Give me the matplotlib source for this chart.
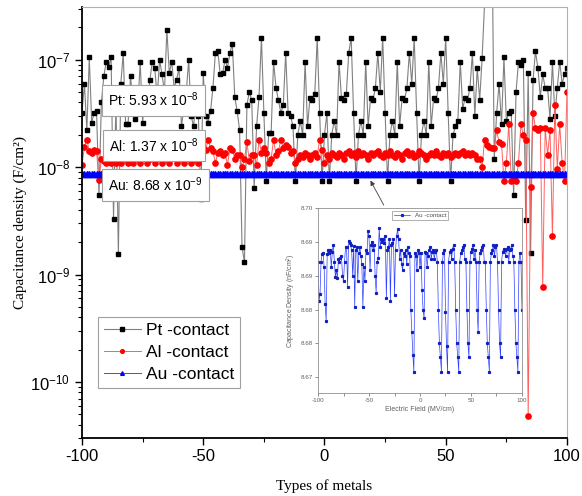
import numpy as np
import matplotlib
matplotlib.use('Agg')
import matplotlib.pyplot as plt
from matplotlib.ticker import NullFormatter, FixedLocator

plt.rcParams['font.family'] = ['Liberation Sans', 'DejaVu Sans']
plt.rcParams['axes.unicode_minus'] = False
plt.rcParams['mathtext.fontset'] = 'custom'
plt.rcParams['mathtext.rm'] = 'Liberation Sans'
plt.rcParams['mathtext.it'] = 'Liberation Sans:italic'
plt.rcParams['mathtext.bf'] = 'Liberation Sans:bold'

# ── data ───────────────────────────────────────────────────────────────────
field = list(range(-100, 101))

pt_contact = [
    3.2e-8, 6.0e-8, 2.2e-8, 1.05e-7, 2.6e-8, 3.2e-8, 3.3e-8, 5.5e-9, 4.0e-8, 7.0e-8,      # -100..-91
    9.6e-8, 8.5e-8, 1.05e-7, 3.3e-9, 4.0e-8, 1.55e-9, 6.0e-8, 1.15e-7, 2.5e-8, 2.5e-8,    # -90..-81
    7.0e-8, 4.0e-8, 2.8e-8, 3.5e-8, 9.6e-8, 2.6e-8, 5.0e-8, 4.0e-8, 6.5e-8, 9.6e-8,       # -80..-71
    8.4e-8, 4.5e-8, 1.0e-7, 7.3e-8, 5.0e-8, 1.9e-7, 7.5e-8, 9.6e-8, 5.5e-8, 6.5e-8,       # -70..-61
    8.4e-8, 2.4e-8, 3.5e-8, 5.0e-8, 1.0e-7, 3.0e-8, 2.4e-8, 4.0e-8, 3.0e-8, 5.0e-9,       # -60..-51
    7.5e-8, 3.0e-8, 2.6e-8, 3.3e-8, 5.5e-8, 1.15e-7, 1.2e-7, 7.3e-8, 7.5e-8, 1.0e-7,      # -50..-41
    8.4e-8, 1.16e-7, 1.4e-7, 4.5e-8, 3.3e-8, 2.2e-8, 1.8e-9, 1.3e-9, 3.8e-8, 5.0e-8,      # -40..-31
    4.2e-8, 6.4e-9, 2.4e-8, 4.5e-8, 1.6e-7, 3.2e-8, 7.4e-9, 2.1e-8, 2.1e-8, 9.6e-8,       # -30..-21
    5.5e-8, 4.2e-8, 3.2e-8, 3.8e-8, 1.16e-7, 3.2e-8, 3.0e-8, 2.4e-8, 7.4e-9, 2.0e-8,      # -20..-11
    2.7e-8, 2.0e-8, 9.6e-8, 2.4e-8, 4.4e-8, 4.2e-8, 4.8e-8, 1.6e-7, 3.2e-8, 7.4e-9,       # -10..-1
    2.0e-8, 3.2e-8, 7.4e-9, 2.0e-8, 2.7e-8, 2.0e-8, 9.6e-8, 4.4e-8, 4.2e-8, 4.8e-8,       # 0..9
    1.16e-7, 1.6e-7, 3.2e-8, 7.4e-9, 2.0e-8, 2.7e-8, 2.0e-8, 9.6e-8, 2.4e-8, 4.4e-8,      # 10..19
    4.2e-8, 5.5e-8, 1.16e-7, 5.0e-8, 1.6e-7, 3.2e-8, 7.4e-9, 2.0e-8, 2.7e-8, 2.0e-8,      # 20..29
    9.6e-8, 2.4e-8, 4.4e-8, 4.2e-8, 5.5e-8, 1.16e-7, 6.0e-8, 1.6e-7, 3.2e-8, 7.4e-9,      # 30..39
    2.0e-8, 2.7e-8, 2.0e-8, 9.6e-8, 2.4e-8, 4.4e-8, 4.2e-8, 5.5e-8, 1.16e-7, 6.0e-8,      # 40..49
    1.6e-7, 3.2e-8, 7.4e-9, 2.0e-8, 2.4e-8, 2.7e-8, 9.6e-8, 3.5e-8, 4.4e-8, 4.2e-8,       # 50..59
    5.5e-8, 1.16e-7, 3.0e-8, 8.4e-8, 4.2e-8, 1.04e-7, 3.3e-7, 1.0e-6, 1.5e-6, 2.5e-6,     # 60..69
    1.2e-8, 3.2e-8, 6.0e-8, 2.5e-8, 1.05e-7, 2.7e-8, 3.2e-8, 3.3e-8, 5.5e-9, 5.0e-8,      # 70..79
    9.6e-8, 9.0e-8, 1.0e-7, 3.2e-9, 7.5e-8, 1.6e-9, 6.5e-8, 1.2e-7, 8.4e-8, 4.5e-8,       # 80..89
    7.3e-8, 5.5e-8, 5.5e-8, 2.8e-8, 9.6e-8, 3.0e-8, 5.5e-8, 9.6e-8, 6.0e-8, 7.3e-8,       # 90..99
    8.4e-8,                                                                               # 100
]

al_contact = [
    1.05e-8, 1.55e-8, 1.8e-8, 1.4e-8, 1.35e-8, 1.45e-8, 1.4e-8, 7.6e-9, 1.2e-8, 1.15e-8,
    1.1e-8, 1.2e-8, 1.1e-8, 1.3e-8, 1.1e-8, 1.25e-8, 1.1e-8, 1.3e-8, 1.2e-8, 1.1e-8,
    1.25e-8, 1.1e-8, 1.3e-8, 1.2e-8, 1.1e-8, 1.35e-8, 1.25e-8, 1.1e-8, 1.2e-8, 1.3e-8,
    1.1e-8, 1.25e-8, 1.3e-8, 1.1e-8, 1.2e-8, 1.35e-8, 1.1e-8, 1.25e-8, 1.3e-8, 1.1e-8,
    1.2e-8, 1.3e-8, 1.1e-8, 1.25e-8, 1.35e-8, 1.1e-8, 1.2e-8, 1.3e-8, 1.1e-8, 1.4e-8,
    1.5e-8, 1.45e-8, 1.8e-8, 1.5e-8, 1.4e-8, 1.1e-8, 1.35e-8, 1.4e-8, 1.3e-8, 1.35e-8,
    1.05e-8, 1.5e-8, 1.45e-8, 1.2e-8, 1.3e-8, 1.3e-8, 1.0e-8, 1.2e-8, 1.7e-8, 1.15e-8,
    1.3e-8, 1.3e-8, 1.05e-8, 1.8e-8, 1.35e-8, 1.5e-8, 1.35e-8, 1.1e-8, 1.2e-8, 1.8e-8,
    1.3e-8, 1.4e-8, 1.8e-8, 1.5e-8, 1.6e-8, 1.55e-8, 1.35e-8, 1.4e-8, 1.1e-8, 1.2e-8,
    1.3e-8, 1.25e-8, 1.35e-8, 1.3e-8, 1.2e-8, 1.3e-8, 1.35e-8, 1.25e-8, 1.8e-8, 1.45e-8,
    1.1e-8, 1.3e-8, 1.2e-8, 1.35e-8, 1.3e-8, 1.25e-8, 1.35e-8, 1.3e-8, 1.2e-8, 1.35e-8,
    1.4e-8, 1.3e-8, 1.35e-8, 1.25e-8, 1.4e-8, 1.3e-8, 1.35e-8, 1.3e-8, 1.2e-8, 1.35e-8,
    1.3e-8, 1.35e-8, 1.4e-8, 1.3e-8, 1.25e-8, 1.35e-8, 1.3e-8, 1.4e-8, 1.3e-8, 1.25e-8,
    1.35e-8, 1.3e-8, 1.2e-8, 1.35e-8, 1.4e-8, 1.3e-8, 1.35e-8, 1.25e-8, 1.3e-8, 1.4e-8,
    1.35e-8, 1.3e-8, 1.2e-8, 1.3e-8, 1.35e-8, 1.3e-8, 1.4e-8, 1.3e-8, 1.25e-8, 1.35e-8,
    1.3e-8, 1.35e-8, 1.25e-8, 1.3e-8, 1.35e-8, 1.3e-8, 1.35e-8, 1.4e-8, 1.3e-8, 1.35e-8,
    1.3e-8, 1.35e-8, 1.3e-8, 1.2e-8, 1.2e-8, 1.0e-8, 1.8e-8, 1.6e-8, 1.55e-8, 1.5e-8,
    1.5e-8, 2.2e-8, 1.7e-8, 1.65e-8, 7.5e-9, 1.1e-8, 2.5e-8, 7.5e-9, 7.8e-9, 7.5e-9,
    1.1e-8, 2.5e-8, 2.0e-8, 1.8e-8, 4.8e-11, 6.6e-9, 3.2e-8, 2.3e-8, 2.2e-8, 2.3e-8,
    7.6e-10, 2.3e-8, 1.3e-8, 2.2e-8, 2.3e-9, 3.8e-8, 9.7e-9, 2.5e-8, 1.1e-8, 7.5e-9,
    5.0e-8,
]

# Au-contact in nF/cm^2 (inset); main panel uses the same values in F/cm^2
au_contact_nf = [
    8.6905, 8.6835, 8.6848, 8.6905, 8.6918, 8.6920, 8.6895, 8.6830, 8.6800, 8.6918,
    8.6925, 8.6920, 8.6925, 8.6895, 8.6922, 8.6935, 8.6905, 8.6878, 8.6890, 8.6875,
    8.6910, 8.6905, 8.6912, 8.6915, 8.6880, 8.6870, 8.6905, 8.6930, 8.6930, 8.6860,
    8.6942, 8.6938, 8.6935, 8.6925, 8.6880, 8.6932, 8.6825, 8.6925, 8.6930, 8.6870,
    8.6920, 8.6930, 8.6915, 8.6900, 8.6825, 8.6895, 8.6870, 8.6925, 8.6920, 8.6960,
    8.6950, 8.6890, 8.6935, 8.6940, 8.6925, 8.6935, 8.6880, 8.6850, 8.6905, 8.6912,
    8.6965, 8.6930, 8.6945, 8.6940, 8.6945, 8.6938, 8.6950, 8.6840, 8.6925, 8.6930,
    8.6945, 8.6835, 8.6935, 8.6938, 8.6945, 8.6845, 8.6925, 8.6950, 8.6962, 8.6945,
    8.6910, 8.6925, 8.6900, 8.6890, 8.6920, 8.6915, 8.6925, 8.6900, 8.6930, 8.6920,
    8.6915, 8.6820, 8.6780, 8.6740, 8.6710, 8.6920, 8.6915, 8.6890, 8.6925, 8.6920,
    8.6895, 8.6920, 8.6855, 8.6820, 8.6805, 8.6922, 8.6920, 8.6895, 8.6915, 8.6925,
    8.6930, 8.6910, 8.6922, 8.6925, 8.6910, 8.6922, 8.6925, 8.6905, 8.6820, 8.6760,
    8.6735, 8.6710, 8.6905, 8.6920, 8.6925, 8.6815, 8.6755, 8.6710, 8.6905, 8.6922,
    8.6925, 8.6910, 8.6928, 8.6935, 8.6905, 8.6820, 8.6760, 8.6735, 8.6710, 8.6905,
    8.6920, 8.6925, 8.6930, 8.6935, 8.6910, 8.6905, 8.6820, 8.6760, 8.6735, 8.6905,
    8.6922, 8.6928, 8.6935, 8.6910, 8.6925, 8.6905, 8.6820, 8.6780, 8.6905, 8.6920,
    8.6925, 8.6930, 8.6935, 8.6905, 8.6905, 8.6820, 8.6760, 8.6735, 8.6710, 8.6905,
    8.6920, 8.6925, 8.6935, 8.6915, 8.6930, 8.6935, 8.6905, 8.6820, 8.6760, 8.6735,
    8.6905, 8.6922, 8.6928, 8.6925, 8.6915, 8.6928, 8.6930, 8.6905, 8.6925, 8.6928,
    8.6935, 8.6915, 8.6905, 8.6820, 8.6760, 8.6735, 8.6710, 8.6905, 8.6920, 8.6905,
    8.6820,
]

assert len(pt_contact) == len(al_contact) == len(au_contact_nf) == len(field)

au_contact = [v * 1e-9 for v in au_contact_nf]

notes = ['Pt: 5.93 x 10$^{-8}$', 'Al: 1.37 x 10$^{-8}$', 'Au: 8.68 x 10$^{-9}$']

# ── main plot ───────────────────────────────────────────────────────────────
fig = plt.figure(figsize=(5.82, 4.96), dpi=100)
ax = fig.add_axes([0.1409, 0.1169, 0.8333, 0.869])

ax.plot(field, pt_contact, color='#808080', lw=0.8, marker='s', ms=3.4,
        mfc='black', mec='black', label='Pt -contact')
ax.plot(field, al_contact, color='#ff6060', lw=0.7, marker='o', ms=3.8,
        mfc='red', mec='red', label='Al -contact')
ax.plot(field, au_contact, color='#3050ff', lw=0.7, marker='^', ms=3.8,
        mfc='blue', mec='blue', label='Au -contact')

ax.set_yscale('log')
ax.set_ylim(3.0e-11, 3.1e-7)
ax.set_xlim(-100, 100)
ax.set_xticks([-100, -50, 0, 50, 100])
ax.xaxis.set_minor_locator(FixedLocator([-75, -25, 25, 75]))
ax.yaxis.set_minor_formatter(NullFormatter())
ax.tick_params(which='major', direction='out', length=5, width=1.0, labelsize=12)
ax.tick_params(which='minor', direction='out', length=3, width=0.8)
ax.tick_params(axis='x', pad=3)

for s in ['left', 'bottom']:
    ax.spines[s].set_linewidth(1.3)
for s in ['top', 'right']:
    ax.spines[s].set_color('#b0b0b0')
    ax.spines[s].set_linewidth(0.8)

ax.set_xlabel('Types of metals', family='Liberation Serif', fontsize=11, labelpad=11)
ax.set_ylabel('Capacitance density (F/cm²)', family='Liberation Serif', fontsize=11,
              labelpad=2)

note_pos = [(0.148, 0.784), (0.148, 0.678), (0.151, 0.587)]
for (nx, ny), txt in zip(note_pos, notes):
    ax.text(nx, ny, txt, transform=ax.transAxes, ha='center', va='center',
            fontsize=10, zorder=10,
            bbox=dict(boxstyle='square,pad=0.45', fc='white', ec='#a0a0a0', lw=0.8))

leg = ax.legend(loc='upper left', bbox_to_anchor=(0.033, 0.281), fontsize=12.5,
                fancybox=False, edgecolor='#a0a0a0', framealpha=1,
                handlelength=2.1, handletextpad=0.3, labelspacing=0.4,
                borderpad=0.35, borderaxespad=0, markerscale=0.7)
leg.get_frame().set_linewidth(0.8)

ax.annotate('', xy=(18.4, 7.9e-9), xytext=(25, 4.2e-9),
            arrowprops=dict(arrowstyle='-|>', color='#404040', lw=0.6,
                            mutation_scale=7), zorder=12)

# ── inset ───────────────────────────────────────────────────────────────────
ins = fig.add_axes([0.5464, 0.2077, 0.3505, 0.373])
ins.plot(field, au_contact_nf, color='#3040ff', lw=0.5, marker='s', ms=1.3,
         mfc='#1020c0', mec='#1020c0', label='Au -contact')
ins.set_xlim(-100, 100)
ins.set_ylim(8.6672, 8.700)
ins.set_yticks([8.670, 8.676, 8.682, 8.688, 8.694, 8.700])
ins.set_yticklabels(['%.2f' % v for v in [8.670, 8.676, 8.682, 8.688, 8.694, 8.700]])
ins.set_xticks([-100, -50, 0, 50, 100])
ins.xaxis.set_minor_locator(FixedLocator([-75, -25, 25, 75]))
ins.tick_params(which='both', direction='out', length=2, width=0.5,
                labelsize=4.5, labelcolor='#606060', color='#606060', pad=1.5)
for s in ins.spines.values():
    s.set_color('#909090')
    s.set_linewidth(0.6)
ins.set_xlabel('Electric Field (MV/cm)', fontsize=5, color='#606060', labelpad=2)
ins.set_ylabel('Capacitance Density (nF/cm$^2$)', fontsize=5, color='#606060', labelpad=2)
il = ins.legend(loc='upper center', bbox_to_anchor=(0.5, 0.985), fontsize=4.5,
                fancybox=False, edgecolor='#909090', framealpha=1,
                handlelength=2.5, borderpad=0.3, borderaxespad=0)
il.get_frame().set_linewidth(0.5)
for t in il.get_texts():
    t.set_color('#505050')

fig.savefig('out.png', dpi=100)
